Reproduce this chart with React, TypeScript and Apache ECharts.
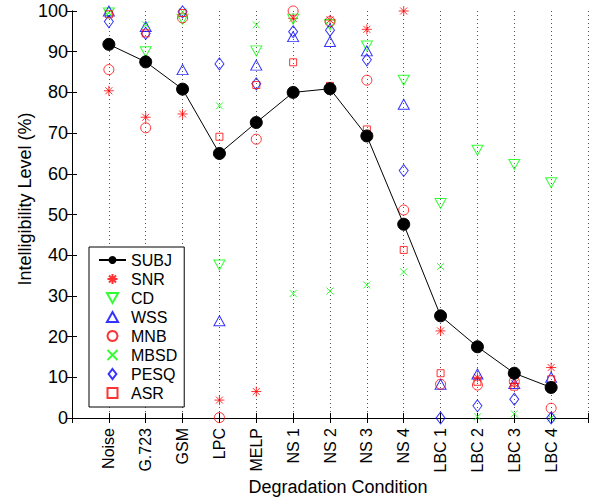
import React, { useEffect, useRef } from "react";
import * as echarts from "echarts";

const categories = ["Noise", "G.723", "GSM", "LPC", "MELP", "NS 1", "NS 2", "NS 3", "NS 4", "LBC 1", "LBC 2", "LBC 3", "LBC 4"];
const yTicks = [0, 10, 20, 30, 40, 50, 60, 70, 80, 90, 100];

const subj = [91.8, 87.5, 80.8, 65.0, 72.6, 80.0, 80.9, 69.3, 47.6, 25.1, 17.5, 11.0, 7.5];
const snr = [80.4, 73.9, 74.7, 4.4, 6.5, 98.2, 97.8, 95.5, 100, 21.4, 10.0, 8.5, 12.4];
const cd = [99.5, 90.0, 98.0, 37.6, 90.2, 98.0, 96.6, 91.4, 83.0, 52.7, 65.8, 62.3, 57.8];
const wss = [100, 96.2, 85.6, 23.9, 86.7, 93.7, 92.5, 90.2, 77.1, 8.3, 10.8, 8.5, 10.0];
const mnb = [85.6, 71.3, 98.3, 0.1, 68.5, 100, 97.4, 83.0, 51.1, 8.3, 8.1, 9.0, 2.4];
const mbsd = [99.5, 96.6, 99.8, 76.7, 96.6, 30.6, 31.2, 32.7, 35.9, 37.2, 0.3, 1.0, 0];
const pesq = [97.4, 94.5, 99.8, 87.0, 82.1, 94.9, 95.3, 88.0, 60.8, 0, 3.0, 4.6, 0];
const asr = [99.2, 94.5, 99.5, 69.1, 81.8, 87.4, 81.6, 70.9, 41.3, 11.0, 8.9, 7.7, 9.5];

const FONT = "'Liberation Sans', Arial, Helvetica, sans-serif";
const RED = "#ff0000";
const GREEN = "#00ff00";
const BLUE = "#0000ff";

const ASTERISK = "path://M10,0L10,20M0,10L20,10M3,3L17,17M3,17L17,3";
const DOWNTRI = "path://M0,0L20,0L10,18Z";
const UPTRI = "path://M10,0L20,18L0,18Z";
const CROSS = "path://M0,0L10,10M0,10L10,0";
const DIAMOND = "path://M7,0L14,9L7,18L0,9Z";
const SQUARE = "path://M0,0L10,0L10,10L0,10Z";
const RING = "path://M10,0A10,10,0,1,1,9.99,0Z";

const toPairs = (arr: number[]) => arr.map((v, i) => [i + 1, v]);

function scatter(name: string, data: number[], symbol: string, size: any, color: string, bw = 1) {
  return {
    name,
    type: "scatter",
    xAxisIndex: 0,
    yAxisIndex: 0,
    data: toPairs(data),
    symbol,
    symbolSize: size,
    symbolKeepAspect: false,
    itemStyle: { color: "transparent", borderColor: color, borderWidth: bw },
    emphasis: { disabled: true },
    z: 3,
  };
}

export default function App() {
  const ref = useRef<HTMLDivElement>(null);
  useEffect(() => {
    if (!ref.current) return;
    const chart = echarts.init(ref.current, undefined, { renderer: "svg" });
    const axisLine = { show: true, lineStyle: { color: "#000", width: 1 } };
    chart.setOption({
      animation: false,
      backgroundColor: "#fff",
      textStyle: { fontFamily: FONT },
      grid: { left: 72, right: 2, top: 11, bottom: 80, containLabel: false },
      xAxis: [
        {
          type: "value",
          min: 0,
          max: 14,
          interval: 1,
          position: "bottom",
          axisLine,
          axisTick: { show: true, inside: true, length: 5, lineStyle: { color: "#000" } },
          axisLabel: {
            rotate: 90,
            margin: 10,
            fontSize: 16,
            color: "#000",
            fontFamily: FONT,
            formatter: (v: number) => categories[v - 1] || "",
          },
          splitLine: { show: true, lineStyle: { type: [1, 3], color: "#555", width: 1 } },
        },
        {
          type: "value",
          min: 0,
          max: 14,
          interval: 1,
          position: "top",
          axisLine,
          axisTick: { show: true, inside: true, length: 5, lineStyle: { color: "#000" } },
          axisLabel: { show: false },
          splitLine: { show: false },
        },
      ],
      yAxis: [
        {
          type: "value",
          min: 0,
          max: 100,
          interval: 10,
          position: "left",
          axisLine,
          axisTick: { show: true, inside: true, length: 5, lineStyle: { color: "#000" } },
          axisLabel: {
            margin: 4,
            fontSize: 18,
            color: "#000",
            fontFamily: FONT,
            formatter: (v: number) => (yTicks.includes(v) ? String(v) : ""),
          },
          splitLine: { show: false },
        },
        {
          type: "value",
          min: 0,
          max: 100,
          interval: 10,
          position: "right",
          axisLine,
          axisTick: { show: true, inside: true, length: 5, lineStyle: { color: "#000" } },
          axisLabel: { show: false },
          splitLine: { show: false },
        },
      ],
      legend: {
        orient: "vertical",
        left: 89,
        top: 247,
        backgroundColor: "#fff",
        borderColor: "#000",
        borderWidth: 1,
        borderRadius: 0,
        padding: [5, 7, 6, 9],
        itemWidth: 27,
        itemHeight: 10,
        itemGap: 3,
        itemTextGap: 9,
        symbolKeepAspect: true,
        textStyle: { fontSize: 16, color: "#000", fontFamily: FONT, lineHeight: 16 },
        data: [
          { name: "SUBJ" },
          { name: "SNR", icon: ASTERISK },
          { name: "CD", icon: DOWNTRI },
          { name: "WSS", icon: UPTRI },
          { name: "MNB", icon: RING },
          { name: "MBSD", icon: CROSS },
          { name: "PESQ", icon: DIAMOND },
          { name: "ASR", icon: SQUARE },
        ],
        selectedMode: false,
      },
      graphic: [
        {
          type: "text",
          x: 25,
          y: 199,
          rotation: Math.PI / 2,
          style: {
            text: "Intelligibility Level (%)",
            font: `18px ${FONT}`,
            fill: "#000",
            align: "center",
            verticalAlign: "middle",
          },
        },
        {
          type: "text",
          x: 338,
          y: 487,
          style: {
            text: "Degradation Condition",
            font: `18px ${FONT}`,
            fill: "#000",
            align: "center",
            verticalAlign: "middle",
          },
        },
      ],
      series: [
        scatter("SNR", snr, ASTERISK, 10, RED),
        scatter("CD", cd, DOWNTRI, [11, 10], GREEN),
        scatter("WSS", wss, "triangle", [11, 10], BLUE),
        scatter("MNB", mnb, "circle", 10, RED),
        scatter("MBSD", mbsd, CROSS, 7, GREEN),
        scatter("PESQ", pesq, "diamond", [9, 12], BLUE),
        scatter("ASR", asr, "rect", 7, RED),
        {
          name: "SUBJ",
          type: "line",
          xAxisIndex: 0,
          yAxisIndex: 0,
          data: toPairs(subj),
          symbol: "circle",
          symbolSize: 12,
          showAllSymbol: true,
          itemStyle: { color: "#000", borderColor: "#000" },
          lineStyle: { color: "#000", width: 1 },
          emphasis: { disabled: true },
          z: 4,
        },
      ],
    });
    return () => chart.dispose();
  }, []);
  return <div ref={ref} style={{ width: 590, height: 498, position: "fixed", left: 0, top: 0 }} />;
}
